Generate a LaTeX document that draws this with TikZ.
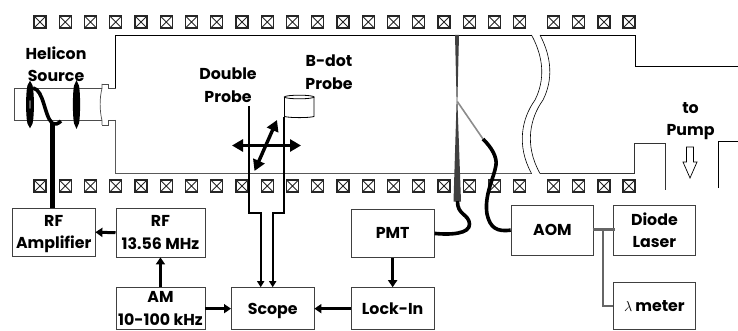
\documentclass[tikz,border=0pt]{standalone}
\usepackage{fontspec}
\setmainfont{Poppins}
\usetikzlibrary{arrows.meta,calc}
\newcommand{\lbl}{\fontsize{15.8}{22.5}\selectfont\bfseries}
\tikzset{
 coil/.style={draw=black!85,line width=1.1pt,minimum size=12pt,inner sep=0pt,path picture={\draw[line width=.9pt,black!85] (path picture bounding box.north west)--(path picture bounding box.south east) (path picture bounding box.north east)--(path picture bounding box.south west);}},
 box/.style={draw=black!75,line width=.9pt,align=center,font=\lbl,inner sep=0pt,anchor=north west,text depth=0pt},
 lab/.style={align=center,font=\lbl,inner sep=0pt},
 wall/.style={line width=.9pt,black},
 heavy/.style={line width=3pt,-{Triangle[length=7pt,width=9pt]},black},
 thin/.style={line width=2.3pt,-{Triangle[length=6pt,width=7pt]},black},
 cross/.style={line width=3.4pt,{Triangle[length=11pt,width=12pt]}-{Triangle[length=11pt,width=12pt]},black},
 wire/.style={line width=3.6pt,black},
 tap/.style={line width=2pt,black!60},
}
\begin{document}
\begin{tikzpicture}[x=1pt,y=-1pt]
\useasboundingbox (0,0) rectangle (738,331);
% magnet coils
\foreach \xx [count=\i] in {40,65.2,90.5,115.7,141,166.2,191.5,216.7,242,267.2,292.5,317.7,343,368.2,393.5,418.7,444,469.2,494.5,519.7,553.5,578.7,604,629}{
  \node[coil] (ct\i) at (\xx,22) {};
  \node[coil] (cb\i) at (\xx,186) {};
}
% chamber
\draw[wall] (115.5,88) -- (115.5,35) -- (531.5,35);
\draw[wall] (540,35) -- (635,35) -- (635,66) -- (738,66);
\draw[line width=1.2pt,black!65] (115.5,120) -- (115.5,173.5) -- (531.5,173.5);
\draw[line width=1pt,black!80] (540,173.5) -- (634.5,173.5) -- (634.5,143.5) -- (665.5,143.5) -- (665.5,190);
\draw[wall] (718.5,188) -- (718.5,141.5) -- (738,141.5);
% break
\draw[line width=.6pt] (531.5,35) .. controls (544,58) and (545,80) .. (535,100) .. controls (522,118) and (516,145) .. (531.5,173.5);
\draw[line width=.6pt] (540,35) .. controls (552,58) and (553,80) .. (543,100) .. controls (530,118) and (524,145) .. (540,173.5);
% helicon tube
\draw[line width=.8pt,black!70] (102,88.5) -- (14,88.5) -- (14,120.5) -- (102,120.5);
\draw[line width=.7pt,black!70] (102,84) -- (108.5,84) -- (108.5,88) -- (115.5,88);
\draw[line width=.7pt,black!70] (102,125) -- (108.5,125) -- (108.5,120) -- (115.5,120);
\draw[line width=.7pt,black!70] (102,84) -- (102,88.5) .. controls (99.5,98) and (99.5,110) .. (102,120.5) -- (102,125);
\draw[line width=3.6pt] (30,104.5) ellipse [x radius=2.1,y radius=20];
\draw[line width=3.6pt] (76.5,104.5) ellipse [x radius=1.8,y radius=20];
\draw[wire] (33,88) .. controls (44,90) and (44,115) .. (52,123) .. controls (55,125) and (58,124) .. (61,121);
% text
\node[lab] (t1) at (56,64) {Helicon\\Source};
\node[lab] (t2) at (228,85) {Double\\Probe};
\node[lab] (t3) at (329,72) {B-dot\\Probe};
\node[lab] (t4) at (690.5,121) {to\\Pump};
% pump arrow
\draw[line width=.7pt,fill=white] (686.5,147) -- (693.5,147) -- (693.5,162) -- (697,162) -- (690,178) -- (683,162) -- (686.5,162) -- cycle;
% blocks
\node[box,minimum width=82.5pt,minimum height=48.5pt] (amp) at (12,207.5) {RF\\Amplifier};
\node[box,minimum width=89pt,minimum height=48.5pt] (rf) at (115.5,208) {RF\\13.56 MHz};
\node[box,minimum width=89pt,minimum height=42pt] (am) at (115.5,287.2) {AM\\10-100 kHz};
\node[box,minimum width=82.5pt,minimum height=42pt] (scope) at (231,287.2) {Scope};
\node[box,minimum width=83pt,minimum height=42pt] (lock) at (350.7,287.2) {Lock-In};
\node[box,minimum width=83pt,minimum height=48.5pt] (pmt) at (350.7,208.7) {PMT};
\node[box,minimum width=82.5pt,minimum height=50pt] (aom) at (510.7,204.7) {AOM};
\node[box,minimum width=82.5pt,minimum height=50pt] (laser) at (612.7,204.7) {Diode\\Laser};
\node[box,minimum width=82.5pt,minimum height=47.5pt] (meter) at (612.7,281.7) {$\lambda$\hspace{3pt}meter};
% helicon feed
\coordinate (feed) at (52.5,122);
\draw[line width=4.2pt] (feed) -- (feed |- amp.north);
% connectors
\draw[heavy] (rf.west) -- (amp.east);
\draw[heavy] (am.north) -- (rf.south);
\draw[heavy] (am.east |- scope.west) -- (scope.west);
\draw[heavy] (lock.west) -- (scope.east);
\draw[heavy] (pmt.south) -- (lock.north);
% probes
\coordinate (dp) at (249,106);
\coordinate (bp) at (284.3,117);
\draw[thin] (dp) -- (249,212.7) -- (260.7,212.7) -- (260.7,287.2);
\draw[thin] (bp) -- (284.3,212.7) -- (272.7,212.7) -- (272.7,287.2);
\draw[line width=.8pt] (284.5,97) -- (284.5,116.5) .. controls (290,118) and (309,118) .. (314,116.5) -- (314,97);
\draw[line width=.8pt] (299.2,97) ellipse [x radius=14.8,y radius=1.8];
\coordinate (hl) at (232,145.5);
\coordinate (hr) at (301,145.5);
\coordinate (dl) at (254.5,171);
\coordinate (dr) at (277,120);
\draw[cross] (hl) -- (hr);
\draw[cross] (dl) -- (dr);
% laser beam
\fill[black!75] (455,35) -- (459,35) -- (457.4,101) -- (461,201.5) -- (453.5,201.5) -- (456.6,101) -- cycle;
\draw[line width=1.6pt,black!45] (457.3,101.5) -- (483,139);
\draw[wire] (483,139) .. controls (492,148) and (497,157) .. (496,165) .. controls (494,178) and (484,195) .. (487,214) .. controls (490,228) and (497,232) .. (aom.west);
\draw[wire] (457.5,201) .. controls (457,215) and (469,214) .. (469.5,224) .. controls (470,234) and (450,235) .. (pmt.east);
% tap to wavemeter
\coordinate (t5) at (603,229.5);
\draw[line width=3pt,black!60] (aom.east |- t5) ++(-1.5,0) -- (laser.west |- t5) -- ++(2.5,0);
\draw[tap] (t5) |- (meter.west);
\end{tikzpicture}
\end{document}
